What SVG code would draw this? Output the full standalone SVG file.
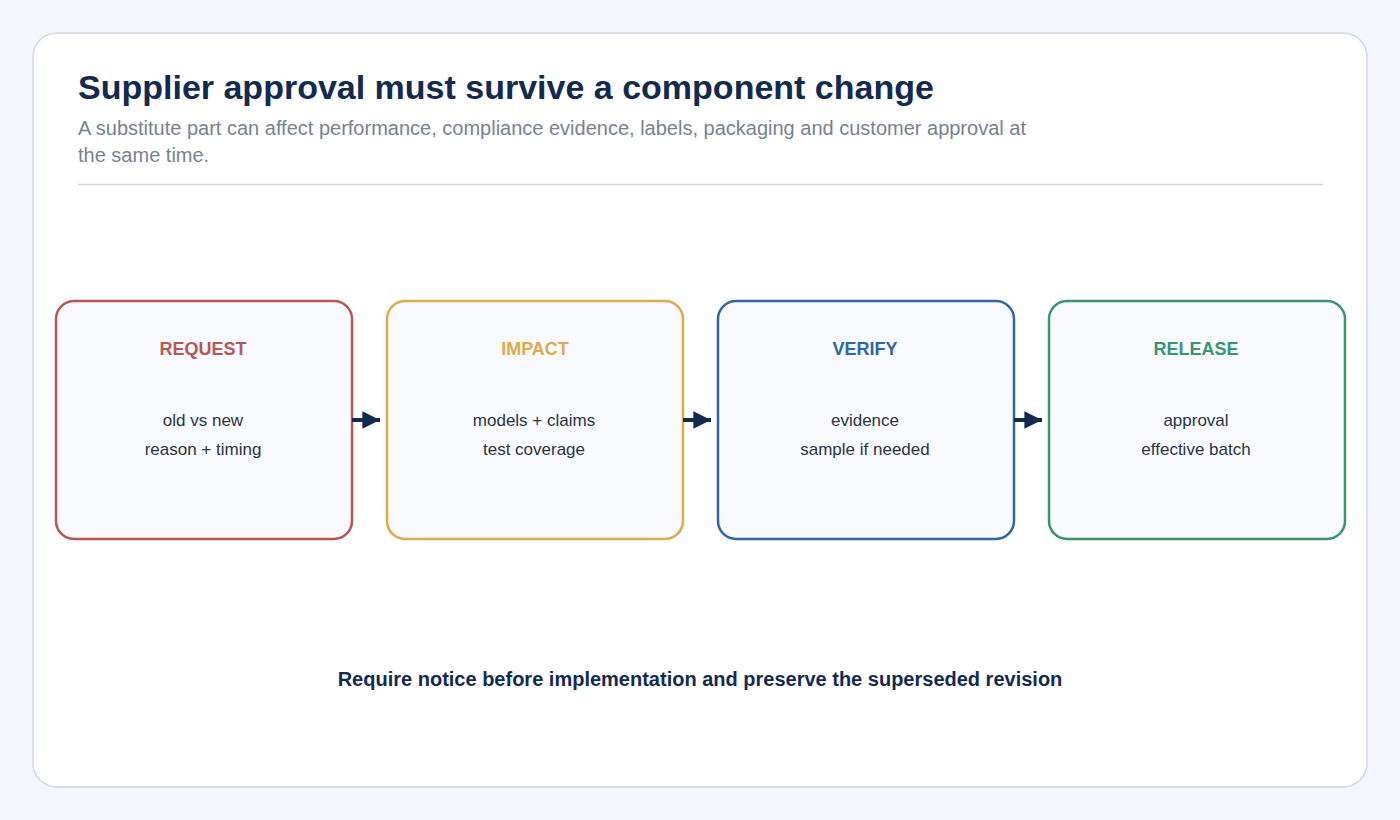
<svg xmlns="http://www.w3.org/2000/svg" width="1400" height="820" viewBox="0 0 1400 820">
<style>
.box{fill:#f8fafd;stroke-width:2.5}
.h{font-family:"Liberation Sans",Arial,sans-serif;font-size:18px;font-weight:bold;text-anchor:middle}
.b{font-family:"Liberation Sans",Arial,sans-serif;font-size:17px;fill:#2b3445;text-anchor:middle}
.c{stroke:#132a50;stroke-width:4;fill:none}
</style>
<defs><marker id="a" viewBox="0 0 10 10" refX="10" refY="5" markerWidth="4.4" markerHeight="4.6" orient="auto" markerUnits="strokeWidth"><path d="M0,0L10,5L0,10z" fill="#132a50"/></marker></defs>
<rect width="1400" height="820" fill="#f3f6fa"/>
<rect x="33" y="33" width="1334" height="754" rx="24" fill="#fff" stroke="#cfd8e4" stroke-width="1.5"/>
<text x="78" y="99" font-family="Liberation Sans,Arial,sans-serif" font-size="34" font-weight="bold" fill="#132a50">Supplier approval must survive a component change</text>
<text font-family="Liberation Sans,Arial,sans-serif" font-size="20" fill="#778293"><tspan x="78" y="135">A substitute part can affect performance, compliance evidence, labels, packaging and customer approval at</tspan><tspan x="78" y="162">the same time.</tspan></text>
<line x1="78" y1="184.5" x2="1323" y2="184.5" stroke="#cfd8e4" stroke-width="1.5"/>
<g id="n1"><rect class="box" x="56" y="301" width="296" height="238" rx="18" stroke="#b85657"/><text class="h" x="203" y="355" fill="#b85657">REQUEST</text><text class="b" x="203" y="426">old vs new</text><text class="b" x="203" y="455">reason + timing</text></g>
<g id="n2"><rect class="box" x="387" y="301" width="296" height="238" rx="18" stroke="#e0aa4c"/><text class="h" x="535" y="355" fill="#e0aa4c">IMPACT</text><text class="b" x="534" y="426">models + claims</text><text class="b" x="534" y="455">test coverage</text></g>
<g id="n3"><rect class="box" x="718" y="301" width="296" height="238" rx="18" stroke="#2f67a3"/><text class="h" x="865" y="355" fill="#2f67a3">VERIFY</text><text class="b" x="865" y="426">evidence</text><text class="b" x="865" y="455">sample if needed</text></g>
<g id="n4"><rect class="box" x="1049" y="301" width="296" height="238" rx="18" stroke="#389570"/><text class="h" x="1196" y="355" fill="#389570">RELEASE</text><text class="b" x="1196" y="426">approval</text><text class="b" x="1196" y="455">effective batch</text></g>
<g id="connectors">
<line class="c" x1="352" y1="420" x2="380" y2="420" marker-end="url(#a)"/>
<line class="c" x1="683" y1="420" x2="711" y2="420" marker-end="url(#a)"/>
<line class="c" x1="1014" y1="420" x2="1042" y2="420" marker-end="url(#a)"/>
</g>
<text x="700" y="686" text-anchor="middle" font-family="Liberation Sans,Arial,sans-serif" font-size="20" font-weight="bold" fill="#132a50">Require notice before implementation and preserve the superseded revision</text>
</svg>
